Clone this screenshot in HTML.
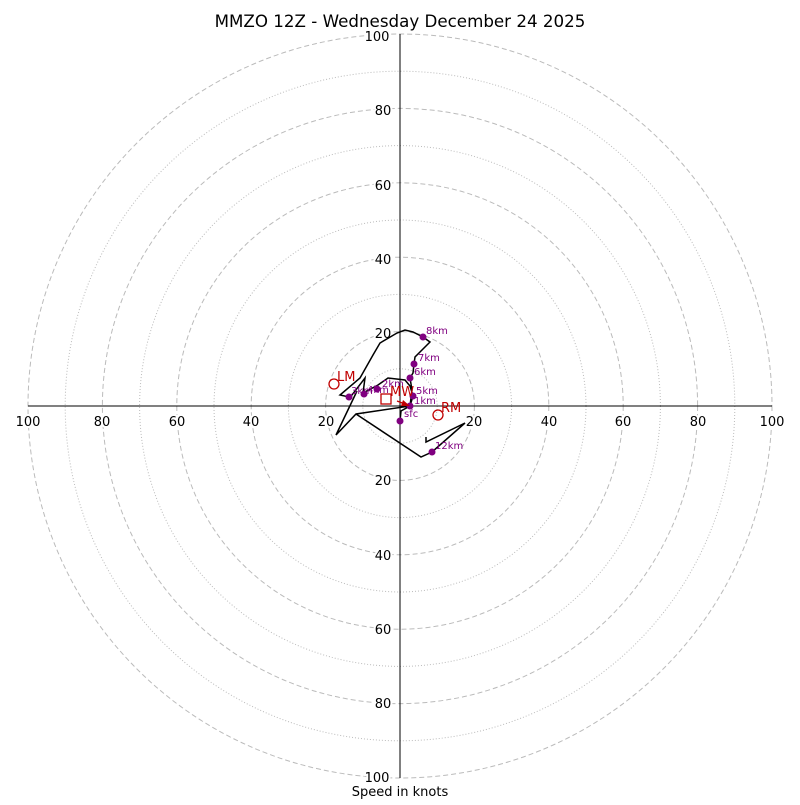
<!DOCTYPE html><html><head><style>body{margin:0;background:#fff}svg{font-family:"DejaVu Sans","Liberation Sans",sans-serif}</style></head><body>
<svg width="800" height="800" xmlns="http://www.w3.org/2000/svg">
<rect width="800" height="800" fill="#fff"/>
<g fill="none" stroke="#bbb" stroke-width="1">
<circle cx="400" cy="406" r="74.4" stroke-dasharray="5,3"/>
<circle cx="400" cy="406" r="148.8" stroke-dasharray="5,3"/>
<circle cx="400" cy="406" r="223.2" stroke-dasharray="5,3"/>
<circle cx="400" cy="406" r="297.6" stroke-dasharray="5,3"/>
<circle cx="400" cy="406" r="372" stroke-dasharray="5,3"/>
<circle cx="400" cy="406" r="37.2" stroke-dasharray="1,2"/>
<circle cx="400" cy="406" r="111.6" stroke-dasharray="1,2"/>
<circle cx="400" cy="406" r="186" stroke-dasharray="1,2"/>
<circle cx="400" cy="406" r="260.4" stroke-dasharray="1,2"/>
<circle cx="400" cy="406" r="334.8" stroke-dasharray="1,2"/>
</g>
<line x1="28" y1="406" x2="772" y2="406" stroke="#000"/>
<line x1="400" y1="34" x2="400" y2="778" stroke="#000"/>
<g font-size="13" text-anchor="middle" fill="#000">
<g stroke="#fff" stroke-width="4" paint-order="stroke">
<text x="28" y="426">100</text><text x="102" y="426">80</text><text x="177" y="426">60</text><text x="251" y="426">40</text><text x="326" y="426">20</text>
<text x="474" y="426">20</text><text x="549" y="426">40</text><text x="623" y="426">60</text><text x="698" y="426">80</text><text x="772" y="426">100</text>
<text x="377" y="41">100</text><text x="383" y="115">80</text><text x="383" y="190">60</text><text x="383" y="264">40</text><text x="383" y="338">20</text>
<text x="383" y="485">20</text><text x="383" y="560">40</text><text x="383" y="634">60</text><text x="383" y="708">80</text><text x="377" y="782">100</text>
</g>
<text x="400" y="796">Speed in knots</text>
<text x="400" y="27" font-size="16.7">MMZO 12Z - Wednesday December 24 2025</text>
</g>
<polyline fill="none" stroke="#000" stroke-width="1.5" points="400,421 401,411 410,406 413,396 410,386 405,380 388,378 378,385 363,393 365,378 352,395 349,397 340,395 360,378 373,355 380,343 397,333 405,330 413,332 423,337 430,342 415,357 414,364 413,373 410,378 412,390 410,406 356,414 336,435 357,391"/>
<polyline fill="none" stroke="#000" stroke-width="1.5" points="356,414 421,457 432,452 465,423 426,442 426,437"/>
<g fill="#800080">
<circle cx="400" cy="421" r="3.5"/><circle cx="410" cy="406" r="3.5"/><circle cx="413" cy="396" r="3.5"/><circle cx="410" cy="378" r="3.5"/><circle cx="414" cy="364" r="3.5"/><circle cx="423" cy="337" r="3.5"/><circle cx="377" cy="389" r="3.5"/><circle cx="364" cy="394" r="3.5"/><circle cx="349" cy="397" r="3.5"/><circle cx="432" cy="452" r="3.5"/>
</g>
<g fill="#800080" font-size="10">
<text x="404" y="417">sfc</text><text x="414" y="404">1km</text><text x="416" y="394">5km</text><text x="414" y="375">6km</text><text x="418" y="361">7km</text><text x="426" y="334">8km</text><text x="382" y="387">2km</text><text x="367" y="393">4km</text><text x="351" y="394">3km</text><text x="435" y="449">12km</text>
</g>
<g stroke="#c00000" fill="none" stroke-width="1.3">
<circle cx="334" cy="384" r="5"/><circle cx="438" cy="415" r="5"/>
<rect x="381" y="394" width="10" height="10"/>
<line x1="397" y1="401" x2="405" y2="404"/>
</g>
<polygon points="410,406 403,400 401,406" fill="#c00000"/>
<g fill="#c00000" font-size="13"><text x="337" y="381">LM</text><text x="441" y="412">RM</text><text x="390" y="396">MW</text></g>
</svg></body></html>
